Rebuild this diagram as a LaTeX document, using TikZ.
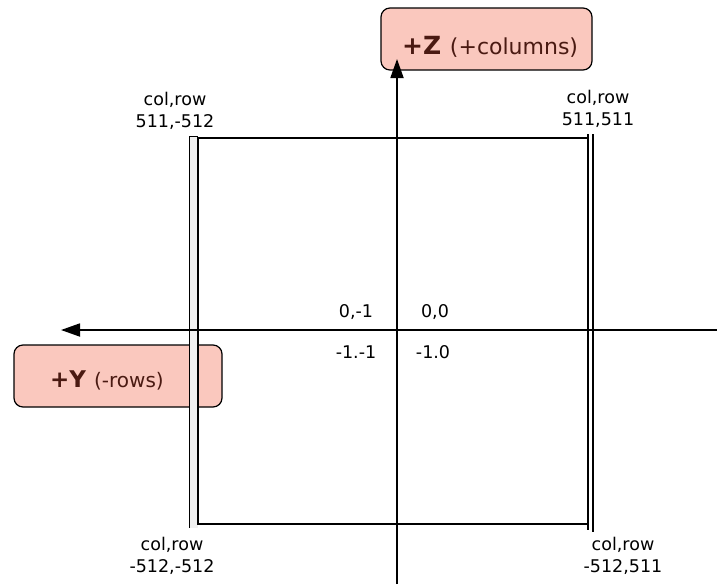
\documentclass[tikz,border=0pt]{standalone}
\usepackage{fontspec}
\setmainfont{DejaVu Sans}
\usetikzlibrary{arrows.meta}
\definecolor{boxfill}{HTML}{FAC8BE}
\definecolor{boxtext}{HTML}{4A1A12}
\tikzset{
  lbl/.style={font=\fontsize{17.5}{22}\selectfont, align=center, inner sep=0pt},
  axisbox/.style={draw=black, line width=1.2pt, fill=boxfill, rounded corners=9pt, inner sep=0pt},
  boxlabel/.style={text=boxtext, anchor=base west, inner sep=0pt},
  axisline/.style={line width=1.8pt, -{Triangle[length=19pt,width=13pt]}},
  edge/.style={line width=2.4pt},
  thinedge/.style={line width=1pt}
}
\begin{document}
\begin{tikzpicture}[x=1pt,y=-1pt]
\useasboundingbox (0,0) rectangle (717,584);
% boxes
\node[axisbox, minimum width=211pt, minimum height=62pt] (zbox) at (486.5,39) {};
\node[boxlabel] (ztext) at (402,54) {\fontsize{25}{30}\selectfont\bfseries +Z \fontsize{22}{26}\mdseries(+columns)};
\node[axisbox, minimum width=208pt, minimum height=62pt] (ybox) at (118,376) {};
\node[boxlabel] (ytext) at (50,387) {\fontsize{23}{28}\selectfont\bfseries +Y \fontsize{20}{24}\mdseries(-rows)};
% square
\coordinate (tl) at (198,138);
\coordinate (tr) at (589,138);
\coordinate (bl) at (198,524);
\coordinate (br) at (589,524);
\draw[line width=2pt] (tl) -- (tr);
\draw[line width=2pt] (bl) -- (br);
\coordinate (l1a) at (189,136); \coordinate (l1b) at (189,528);
\coordinate (l2a) at (198,137); \coordinate (l2b) at (198,525);
\fill[gray!12] (189,136) rectangle (198,528);
\draw[thinedge] (l1a) -- (l1b);
\draw[thinedge] (189,136) -- (198,136);
\draw[edge] (l2a) -- (l2b);
\coordinate (r1a) at (588,134); \coordinate (r1b) at (588,530);
\coordinate (r2a) at (593,134); \coordinate (r2b) at (593,532);
\draw[edge] (r1a) -- (r1b);
\draw[line width=1.6pt] (r2a) -- (r2b);
% axes
\coordinate (vbot) at (397,584);
\coordinate (vtop) at (397,59);
\coordinate (hr) at (717,330);
\coordinate (hl) at (61,330);
\draw[axisline] (vbot) -- (vtop);
\draw[axisline] (hr) -- (hl);
% labels
\node[lbl] (ctl) at (175,111) {col,row\\511,-512};
\node[lbl] (ctr) at (598,109) {col,row\\511,511};
\node[lbl] (cbl) at (172,556) {col,row\\-512,-512};
\node[lbl] (cbr) at (623,556) {col,row\\-512,511};
\node[lbl] (q1) at (356,312) {0,-1};
\node[lbl] (q2) at (435,312) {0,0};
\node[lbl] (q3) at (356,352) {-1.-1};
\node[lbl] (q4) at (433,352) {-1.0};
\end{tikzpicture}
\end{document}
